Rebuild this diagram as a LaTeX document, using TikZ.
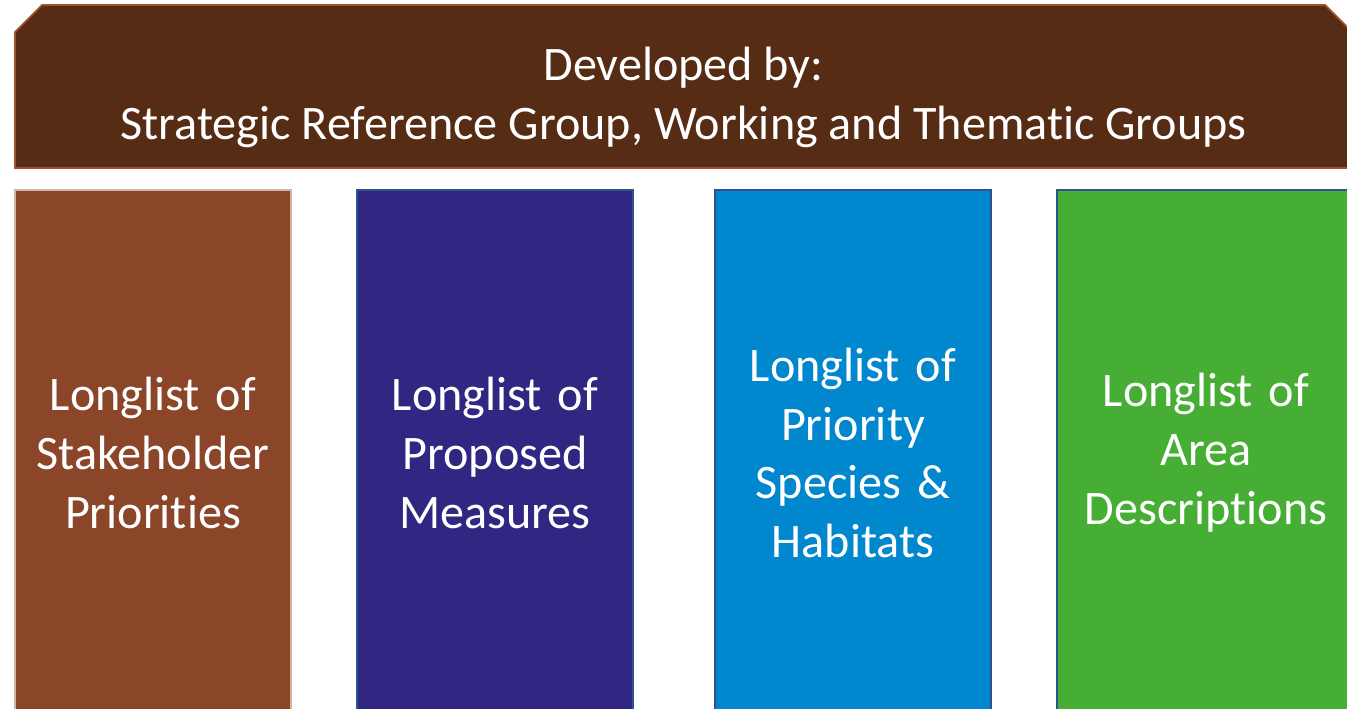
\documentclass[tikz,border=0pt]{standalone}
\usepackage{fontspec}
\setmainfont{Carlito}[RawFeature=-liga]
\usepackage{tikz}
\usetikzlibrary{positioning}
\definecolor{BannerBrown}{RGB}{87,44,20}
\definecolor{BannerEdge}{RGB}{160,82,45}
\definecolor{StakeBrown}{RGB}{139,70,41}
\definecolor{MeasureBlue}{RGB}{49,38,130}
\definecolor{SpeciesBlue}{RGB}{0,135,206}
\definecolor{AreaGreen}{RGB}{70,174,52}
\definecolor{BoxEdge}{RGB}{47,82,143}
\tikzstyle{banner} = [fill=BannerBrown, draw=BannerEdge, line width=1pt]
\tikzstyle{longlist} = [rectangle, minimum width=5.52cm, minimum height=10.52cm, text width=5.2cm, align=center, draw=BoxEdge, line width=1.1pt]

\begin{document}
\begin{tikzpicture}[outer sep=0pt, inner sep=0pt, node distance=1.32cm, text=white, font=\fontsize{27.4}{33.5}\selectfont]
	\clip (0,0) rectangle (26.94,-14.18);
	% BANNER
	\draw [banner] (0.3,-3.36) -- (0.3,-0.64) -- (0.84,-0.1) -- (26.5,-0.1) -- (27.04,-0.64) -- (27.04,-3.36) -- cycle;
	\node (dev) [align=center] at (13.67,-1.95) {Developed by:\\ Strategic Reference Group, Working and Thematic Groups};

	% LONGLISTS
	\node (stake) [longlist, anchor=north west, fill=StakeBrown, draw=StakeBrown!40] at (0.3,-3.8) {Longlist of\\ Stakeholder\\ Priorities};
	\node (measure) [longlist, right = of stake, fill=MeasureBlue] {Longlist of\\ Proposed\\ Measures};
	\node (species) [longlist, right = 1.64cm of measure, fill=SpeciesBlue] {Longlist of\\ Priority\\ Species \&\\ Habitats};
	\node (area) [longlist, right = of species, minimum width=5.96cm, text width=5.6cm, fill=AreaGreen] {Longlist of\\ Area\\ Descriptions};
\end{tikzpicture}
\end{document}
